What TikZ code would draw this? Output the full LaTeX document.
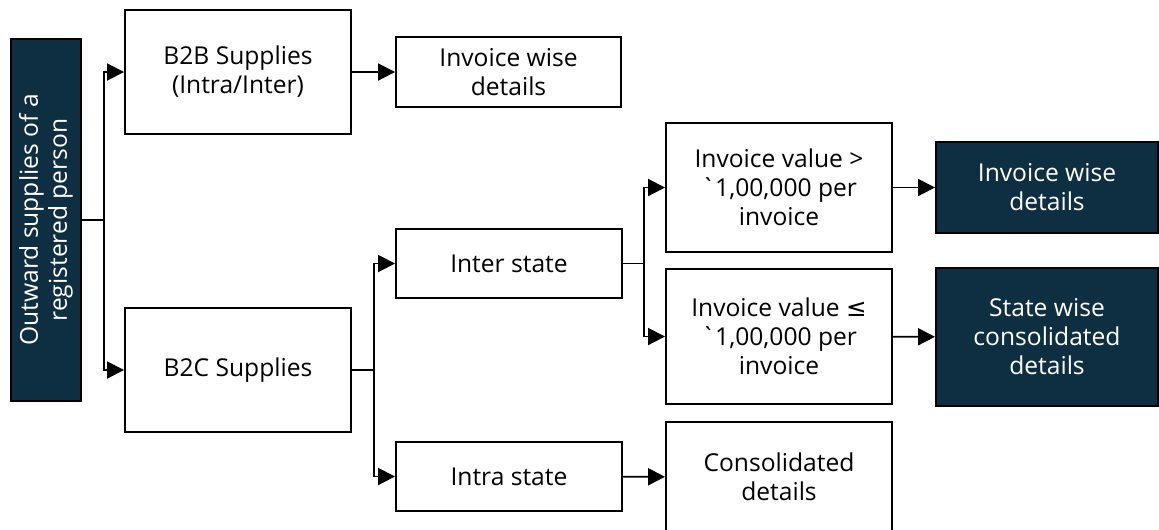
\documentclass[tikz,border=0pt]{standalone}
\usepackage{fontspec}
\setmainfont{Open Sans}
\newfontfamily\symfont{DejaVu Sans}
\usepackage{xcolor}
\usetikzlibrary{arrows.meta,positioning}
\definecolor{gstnavy}{RGB}{14,47,66}
\tikzset{
  supbox/.style  = {draw=black, line width=1.1pt, fill=white, align=center,
                    font=\fontsize{14}{16.5}\selectfont, inner sep=0pt},
  darkbox/.style = {supbox, fill=gstnavy, text=white},
  flow/.style    = {-{Triangle[length=3.4mm,width=3.4mm]}, line width=1.1pt},
}

\begin{document}
\begin{tikzpicture}
\useasboundingbox (0,0) rectangle (23.18,-10.58);
\clip (0,0) rectangle (23.18,-10.58);
% root, text turned up the box
\node[darkbox, rotate=90, minimum width=7.24cm, minimum height=1.40cm] (outward) at (0.92,-4.40)
  {Outward supplies of a\\registered person};
\node[supbox, minimum width=4.52cm, minimum height=2.48cm] (b2b) at (4.76,-1.44) {B2B Supplies\\(Intra/Inter)};
\node[supbox, minimum width=4.52cm, minimum height=2.48cm] (b2c) at (4.76,-7.40) {B2C Supplies};
\node[supbox, minimum width=4.50cm, minimum height=1.40cm] (b2binv) at (10.17,-1.44) {Invoice wise\\details};
\node[supbox, minimum width=4.52cm, minimum height=1.38cm] (inter) at (10.18,-5.27) {Inter state};
\node[supbox, minimum width=4.52cm, minimum height=1.38cm] (intra) at (10.18,-9.53) {Intra state};
\node[supbox, minimum width=4.52cm, minimum height=2.58cm] (above) at (15.58,-3.75)
  {Invoice value >\\\textasciigrave1,00,000 per\\invoice};
\node[supbox, minimum width=4.52cm, minimum height=2.70cm] (below) at (15.58,-6.73)
  {Invoice value {\symfont ≤}\\\textasciigrave1,00,000 per\\invoice};
\node[supbox, minimum width=4.52cm, minimum height=2.20cm] (consol) at (15.58,-9.54) {Consolidated\\details};
\node[darkbox, minimum width=4.44cm, minimum height=1.82cm] (invwise) at (20.94,-3.75) {Invoice wise\\details};
\node[darkbox, minimum width=4.44cm, minimum height=2.76cm] (statewise) at (20.94,-6.74)
  {State wise\\consolidated\\details};
% rotated node: south is its right side
\draw[flow] (outward.south) -- ++(0.44,0) |- (b2b.west);
\draw[flow] (outward.south) -- ++(0.44,0) |- (b2c.west);
\draw[flow] (b2b) -- (b2binv);
\draw[flow] (b2c.east) -- ++(0.44,0) |- (inter.west);
\draw[flow] (b2c.east) -- ++(0.44,0) |- (intra.west);
\draw[flow] (inter.east) -- ++(0.42,0) |- (above.west);
\draw[flow] (inter.east) -- ++(0.42,0) |- (below.west);
\draw[flow] (intra) -- (consol);
\draw[flow] (above) -- (invwise);
\draw[flow] (below) -- (statewise);
\end{tikzpicture}
\end{document}
